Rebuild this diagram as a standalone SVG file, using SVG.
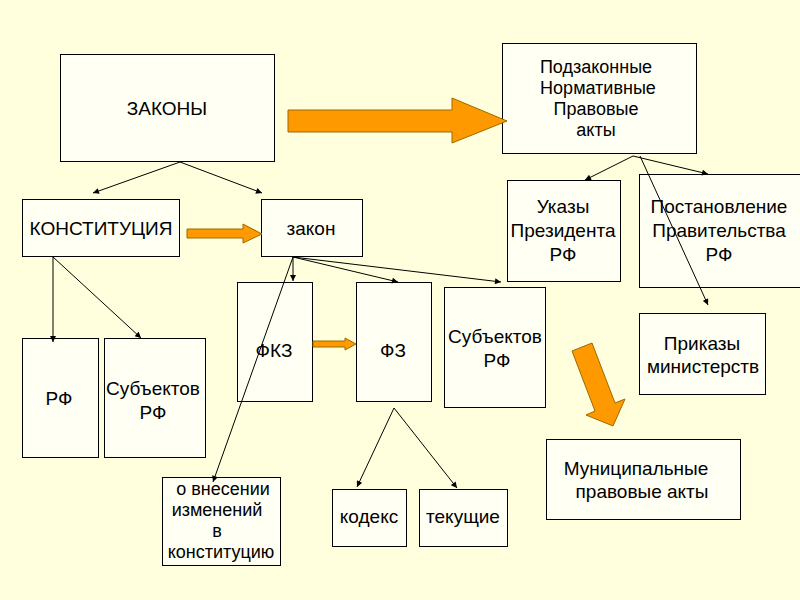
<svg xmlns="http://www.w3.org/2000/svg" width="800" height="600" viewBox="0 0 800 600">
<defs>
<marker id="ah" viewBox="0 0 10 10" refX="10" refY="5" markerWidth="7" markerHeight="6" markerUnits="userSpaceOnUse" orient="auto">
<path d="M0,0 L10,5 L0,10 z" fill="#000"/>
</marker>
<style>
.box{fill:#FFFFF4;stroke:#000;stroke-width:1}
.t{font-family:"Liberation Sans",Arial,sans-serif;font-size:19px;fill:#000;text-anchor:middle}
.s{font-size:18px}
.c{stroke:#000;stroke-width:1;fill:none;marker-end:url(#ah)}
.big{fill:#FF9900;stroke:#9A6A00;stroke-width:1}
</style>
</defs>
<rect width="800" height="600" fill="#FFFFDD"/>

<g id="n-zakony"><rect class="box" x="60.5" y="54.5" width="214" height="107"/><text class="t" x="167" y="115">ЗАКОНЫ</text></g>
<g id="n-konst"><rect class="box" x="22.5" y="199.5" width="157" height="57"/><text class="t" x="101" y="235">КОНСТИТУЦИЯ</text></g>
<g id="n-zakon"><rect class="box" x="261.5" y="199.5" width="101" height="57"/><text class="t" x="311" y="235">закон</text></g>
<g id="n-podz"><rect class="box" x="502.5" y="43.5" width="194" height="110"/>
<text class="t s" x="596" y="73">Подзаконные</text><text class="t s" x="598" y="94">Нормативные</text><text class="t s" x="596" y="115">Правовые</text><text class="t s" x="596" y="136">акты</text></g>
<g id="n-ukazy"><rect class="box" x="507.5" y="180.5" width="113" height="101"/>
<text class="t" x="563" y="213">Указы</text><text class="t" x="563" y="237">Президента</text><text class="t" x="563" y="261">РФ</text></g>
<g id="n-post"><rect class="box" x="639.5" y="174.5" width="165" height="113"/>
<text class="t" x="719" y="213">Постановление</text><text class="t" x="719" y="237">Правительства</text><text class="t" x="719" y="261">РФ</text></g>
<g id="n-prikazy"><rect class="box" x="639.5" y="313.5" width="126" height="81"/>
<text class="t" x="702" y="350">Приказы</text><text class="t" x="703" y="373">министерств</text></g>
<g id="n-mun"><rect class="box" x="546.5" y="439.5" width="194" height="80"/>
<text class="t" x="636" y="475">Муниципальные</text><text class="t" x="642" y="498">правовые акты</text></g>
<g id="n-fkz"><rect class="box" x="237.5" y="282.5" width="75" height="119"/><text class="t" x="274" y="357">ФКЗ</text></g>
<g id="n-fz"><rect class="box" x="356.5" y="282.5" width="75" height="119"/><text class="t" x="393" y="357">ФЗ</text></g>
<g id="n-subj2"><rect class="box" x="444.5" y="287.5" width="101" height="120"/>
<text class="t" x="495" y="343">Субъектов</text><text class="t" x="497" y="367">РФ</text></g>
<g id="n-rf"><rect class="box" x="22.5" y="338.5" width="76" height="119"/><text class="t" x="59" y="405">РФ</text></g>
<g id="n-subj1"><rect class="box" x="104.5" y="338.5" width="101" height="119"/>
<text class="t" x="153" y="395">Субъектов</text><text class="t" x="153" y="419">РФ</text></g>
<g id="n-vnes"><rect class="box" x="162.5" y="477.5" width="118" height="88"/>
<text class="t s" x="223" y="495">о внесении</text><text class="t s" x="217" y="516">изменений</text><text class="t s" x="217" y="537">в</text><text class="t s" x="221" y="558">конституцию</text></g>
<g id="n-kodeks"><rect class="box" x="332.5" y="489.5" width="74" height="57"/><text class="t" x="369" y="523">кодекс</text></g>
<g id="n-tek"><rect class="box" x="419.5" y="489.5" width="88" height="57"/><text class="t" x="463" y="523">текущие</text></g>

<g id="connectors">
<line class="c" x1="180" y1="162" x2="93" y2="193"/>
<line class="c" x1="180" y1="162" x2="262" y2="193"/>
<line class="c" x1="53" y1="257" x2="53" y2="342"/>
<line class="c" x1="53" y1="257" x2="141" y2="338"/>
<line class="c" x1="293" y1="257" x2="293" y2="281"/>
<line class="c" x1="293" y1="257" x2="213" y2="482"/>
<line class="c" x1="293" y1="257" x2="398" y2="282"/>
<line class="c" x1="293" y1="257" x2="501" y2="282"/>
<line class="c" x1="633" y1="156" x2="585" y2="180"/>
<line class="c" x1="633" y1="156" x2="708" y2="174"/>
<line class="c" x1="640" y1="156" x2="708" y2="305"/>
<line class="c" x1="394" y1="408" x2="357" y2="487"/>
<line class="c" x1="394" y1="408" x2="457" y2="488"/>
<polygon class="big" points="288,110 452,110 452,98 507,121 452,143 452,132 288,132"/>
<polygon class="big" points="187,229 243,229 243,224 262,234 243,243 243,238 187,238"/>
<polygon class="big" points="313,341 345,341 345,338 356,344 345,350 345,347 313,347"/>
<polygon class="big" points="572,351 592,343 615,403 625,399 613,426 586,415 595,411"/>
</g>
</svg>
